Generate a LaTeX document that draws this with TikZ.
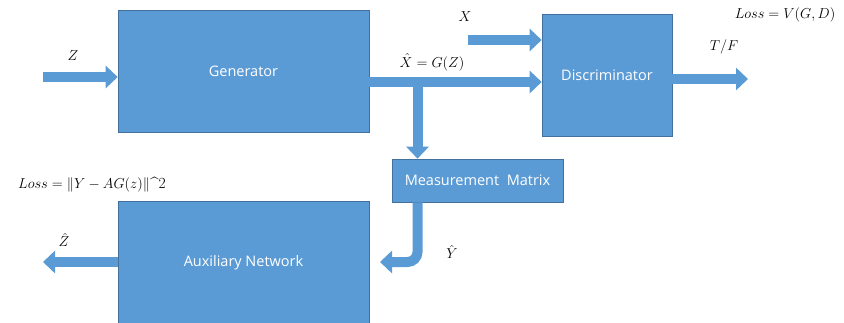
\documentclass[tikz,border=0pt]{standalone}
\usepackage{fontspec}
\setsansfont{Open Sans}
\usetikzlibrary{arrows.meta}
\definecolor{boxblue}{RGB}{91,155,213}
\definecolor{boxedge}{RGB}{65,113,156}
\begin{document}
\begin{tikzpicture}[x=1pt,y=-1pt,
  block/.style={draw=boxedge, line width=0.6pt, fill=boxblue, text=white,
    inner sep=0pt, font=\sffamily\fontsize{14.5}{17}\selectfont},
  fat/.style={draw=boxblue, line width=10pt,
    -{Triangle[length=12pt,width=22pt]}},
  lbl/.style={font=\fontsize{15.5}{18}\selectfont, inner sep=1pt}]
\useasboundingbox (0,0) rectangle (844,322);

% blocks
\node[block, minimum width=251pt, minimum height=122pt] (gen) at (243.5,71) {Generator};
\node[block, minimum width=130pt, minimum height=122pt] (disc) at (607,75) {Discriminator};
\node[block, minimum width=171pt, minimum height=43pt] (mm) at (477.5,180.5) {Measurement\ \ Matrix};
\node[block, minimum width=251pt, minimum height=124pt] (aux) at (243.5,263) {Auxiliary Network};

% reference points for the arrows
\coordinate (zin) at (43,77);
\coordinate (xin) at (468,40);
\coordinate (xh) at (417.5,82);
\coordinate (tf) at (748,79);
\coordinate (yend) at (380,262);
\coordinate (zh) at (43,262);

% arrows
\draw[fat] (zin) -- (zin -| gen.west);
\draw[fat] (xin) -- (xin -| disc.west);
\draw[fat] (xh -| gen.east) -- (xh -| disc.west);
\draw[fat] (xh) -- (xh |- mm.north);
\draw[fat, rounded corners=10pt] (mm.south -| xh) -- (xh |- yend) -- (yend);
\draw[fat] (disc.east |- tf) -- (tf);
\draw[fat] (aux.west |- zh) -- (zh);

% labels
\node[lbl] (lz) at (73,56) {$Z$};
\node[lbl] (lx) at (465,17) {$X$};
\node[lbl] (lxh) at (432,62) {$\hat{X}=G(Z)$};
\node[lbl] (ltf) at (724,47) {$T/F$};
\node[lbl] (lvd) at (785,15) {$Loss=V(G,D)$};
\node[lbl] (lzh) at (64,240) {$\hat{Z}$};
\node[lbl] (lyh) at (452,252) {$\hat{Y}$};
\node[lbl] (lreg) at (92,185) {$Loss=\|Y-AG(z)\|$\textasciicircum 2};
\end{tikzpicture}
\end{document}
